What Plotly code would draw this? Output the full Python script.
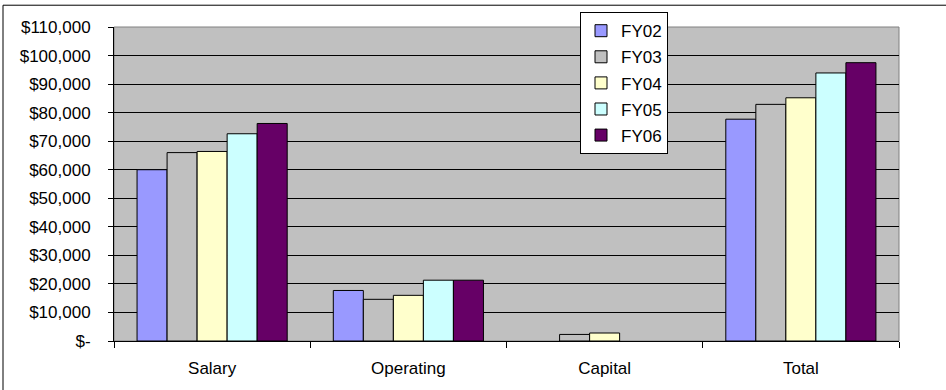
import plotly.graph_objects as go

categories = ["Salary", "Operating", "Capital", "Total"]
series_names = ["FY02", "FY03", "FY04", "FY05", "FY06"]
fy02 = [60000, 17700, 0, 77700]
fy03 = [66000, 14600, 2300, 82900]
fy04 = [66400, 16000, 2800, 85200]
fy05 = [72600, 21300, 0, 93900]
fy06 = [76200, 21300, 0, 97500]
series_values = [fy02, fy03, fy04, fy05, fy06]
colors = ["#9999FF", "#C0C0C0", "#FFFFCC", "#CCFFFF", "#660066"]
tick_values = [0, 10000, 20000, 30000, 40000, 50000, 60000, 70000, 80000, 90000, 100000, 110000]
tick_labels = ["$-", "$10,000", "$20,000", "$30,000", "$40,000", "$50,000", "$60,000",
               "$70,000", "$80,000", "$90,000", "$100,000", "$110,000"]

FONT = "Arial, Liberation Sans, sans-serif"
FS = 17

fig = go.Figure()
for name, vals, col in zip(series_names, series_values, colors):
    # zero amounts draw no bar (as in the original chart)
    shown = [v if v else None for v in vals]
    fig.add_trace(go.Bar(
        x=categories, y=shown, name=name, legendgroup=name,
        marker=dict(color=col, line=dict(color="#000000", width=1)),
    ))

W, H = 946, 390
L, R, T, B = 114, 47, 26, 47
pw = W - L - R
ph = H - T - B

def px(x):
    return (x - L) / pw

def py(y):
    return (H - B - y) / ph

fig.update_layout(
    width=W, height=H,
    margin=dict(l=L, r=R, t=T, b=B, pad=0),
    paper_bgcolor="#FFFFFF",
    plot_bgcolor="#C0C0C0",
    barmode="group",
    bargap=0.235,
    bargroupgap=0,
    font=dict(family=FONT, size=FS, color="#000000"),
    showlegend=True,
    legend=dict(
        x=px(580), y=py(11), xanchor="left", yanchor="top",
        bgcolor="#FFFFFF", bordercolor="#000000", borderwidth=1,
        font=dict(family=FONT, size=FS, color="#000000"),
        traceorder="grouped", tracegroupgap=1, itemwidth=30,
    ),
    xaxis=dict(
        type="category", tickson="boundaries", ticks="outside", ticklen=6,
        tickcolor="#000000", tickwidth=1, showline=True, linecolor="#000000",
        linewidth=1, showgrid=False, ticklabelstandoff=12,
        tickfont=dict(family=FONT, size=FS, color="#000000"),
    ),
    yaxis=dict(
        range=[0, 110000], tickvals=tick_values, ticktext=tick_labels,
        ticks="outside", ticklen=5, tickcolor="#000000", tickwidth=1,
        showline=True, linecolor="#000000", linewidth=1,
        showgrid=True, gridcolor="#000000", gridwidth=1, zeroline=False,
        ticklabelstandoff=14,
        tickfont=dict(family=FONT, size=FS, color="#000000"),
    ),
    shapes=[
        dict(type="rect", xref="paper", yref="paper", x0=0, x1=1, y0=0, y1=1,
             line=dict(color="#808080", width=1), layer="below"),
        dict(type="rect", xref="paper", yref="paper", x0=px(3), x1=px(960),
             y0=py(4), y1=py(400), line=dict(color="#000000", width=1),
             fillcolor="rgba(0,0,0,0)"),
    ],
)

fig.write_html("out.html")
